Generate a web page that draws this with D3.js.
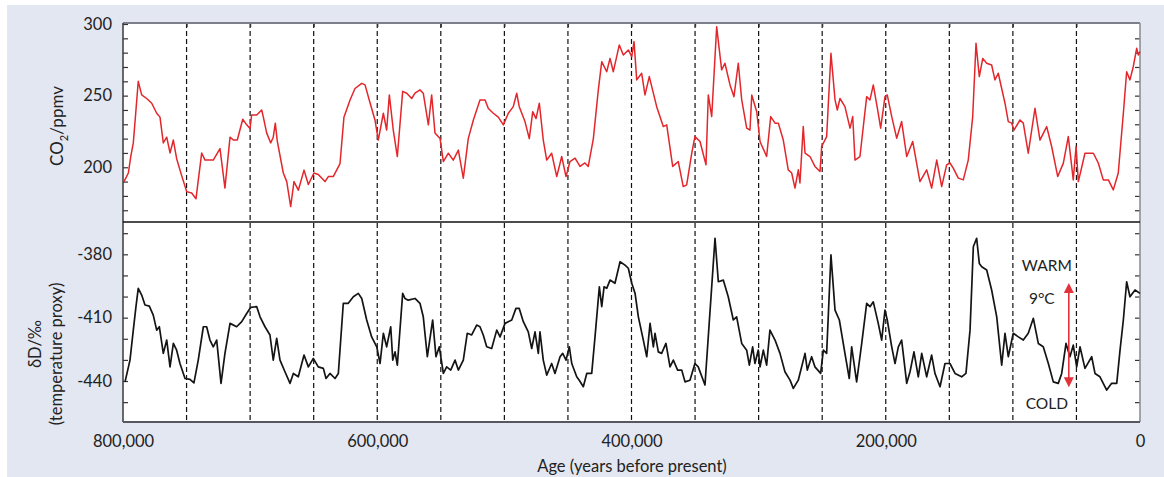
<!DOCTYPE html>
<html>
<head>
<meta charset="utf-8">
<script src="https://cdn.jsdelivr.net/npm/d3@7"></script>
<style>
  body { margin: 0; background: #ffffff; }
  svg { display: block; }
  text { font-family: Lato, "Open Sans", sans-serif; fill: #222; }
</style>
</head>
<body>
<svg id="vis" width="1164" height="477"></svg>
<script>
// ages in thousands of years before present
const CO2_AGE = [799.2,795.8,793.9,791.9,789.8,788.0,785.3,781.4,777.4,773.5,770.9,768.3,765.6,763.0,760.4,757.8,753.8,749.9,746.0,742.6,738.1,735.5,729.0,723.7,719.8,715.8,713.2,710.1,705.8,702.7,700.1,698.8,694.8,690.9,689.6,687.0,683.8,681.8,680.2,678.6,673.9,671.2,668.1,665.5,662.1,657.6,654.2,649.8,646.4,641.1,638.5,634.6,629.3,626.2,621.4,617.5,612.2,609.6,605.7,601.8,599.2,595.2,592.6,590.5,587.4,584.2,580.0,576.8,572.9,570.3,566.4,563.8,559.8,557.2,554.6,550.6,548.0,544.1,540.2,536.2,532.3,528.4,524.4,519.2,515.2,512.6,508.7,504.8,500.8,496.9,493.0,490.3,488.3,483.8,480.4,477.7,475.1,472.5,469.4,466.7,462.8,458.8,454.9,451.5,448.4,444.4,440.5,436.6,434.0,432.1,430.0,426.1,423.4,419.5,416.9,414.3,409.6,406.4,402.5,399.8,398.0,395.9,392.0,389.4,386.0,380.2,375.0,372.3,367.6,363.2,359.3,356.6,352.6,350.1,346.1,341.4,339.6,336.9,333.0,329.1,326.5,322.5,319.4,316.0,313.3,309.4,306.8,305.4,301.5,298.9,293.7,290.5,287.1,284.5,280.6,276.7,274.0,271.4,268.8,267.5,264.9,263.5,259.6,255.7,251.7,250.4,246.5,243.1,239.9,238.1,236.0,232.1,228.1,226.0,224.2,220.3,215.0,212.4,209.8,205.9,204.0,200.6,198.8,195.3,191.4,187.5,183.5,178.8,173.1,167.8,163.9,159.9,156.0,152.1,149.5,146.9,142.9,139.0,135.1,131.6,129.0,126.4,123.7,120.6,116.7,114.1,111.5,106.2,103.6,100.9,99.1,94.4,91.8,87.9,82.6,78.7,73.4,69.5,64.7,60.3,56.4,52.5,50.3,48.5,43.3,36.7,32.8,28.9,24.9,21.0,17.1,13.1,10.5,7.9,5.3,2.6,1.3,0];
const CO2_PPMV = [190,196,207.5,217,240,260,250.5,248,244.7,237.7,235,217,221,210,219,206,194,183,182,178,210,205,205,213,185.5,221,219,219,233.5,229.6,227,236.5,236.5,240,235,224,217,221,230.8,218,196,190,172.6,190,184,198,188,196,195,190,193.5,193.5,202.5,235,247,255,258.6,257.5,245,233,219,237.7,226,250.5,226,207.5,253,251.7,248,251.7,254,251.7,229.6,250.5,224,220,204,209.8,205,212,192.4,220,233,247,247,241,237.7,235,229.6,237.7,242.3,251.7,242.3,231.9,220,238.8,234,244.7,219,205,209.8,193.5,207.5,193.5,204,206.4,200.6,203,200.6,209.8,220,254,273.7,266.7,276,266.7,285.4,278.4,281.9,277.2,287.7,261,265.6,250.5,263.3,242.3,228.4,229.6,200.6,204,186.5,187.7,209.8,221.4,218,201.7,250.5,235.4,298,268,272.6,257.5,249.3,272.6,247,227.3,226,250.5,238.8,218,207.5,235.4,230.8,230.8,219,198.2,196,185.5,198.2,189,228.4,209.8,207.5,200.6,197,214.5,221.4,279.5,247,240,248,242.3,227.3,235.4,205,207.5,249.3,247,257.5,237.7,227.3,249.3,250.5,235.4,220.3,231.9,207.5,218,190,198.2,185.5,205,186.5,201.7,203,199.4,192.4,191.2,205,235.4,286.5,263.3,276,272.6,271.4,261,265.6,244.7,231.9,230.8,226,233,230.8,209.8,241.2,219,228.4,214.5,193.5,202.9,221.4,191.2,214.5,190,209.8,209.8,203,191.2,191.2,184.2,196,237.7,266.7,261,270.2,283,278.4,280.7];

const DD_AGE = [798.4,794.5,791.9,789.8,788.0,785.3,782.7,779.3,776.2,773.5,771.4,768.3,765.6,763.0,760.4,757.8,755.2,751.2,747.3,744.2,740.8,736.8,734.2,731.6,729.0,726.3,722.9,719.8,715.8,710.6,706.6,702.7,699.5,694.8,692.2,688.3,684.4,681.8,679.1,676.5,672.6,668.6,666.0,662.1,657.6,654.2,650.3,646.4,642.4,640.3,637.2,633.2,630.6,626.7,622.8,618.8,614.9,612.2,608.3,604.4,600.4,597.8,595.2,592.6,589.4,587.8,586.0,584.2,580.0,578.2,575.6,570.3,566.4,563.8,560.6,556.4,553.8,551.2,548.0,545.4,542.2,538.8,536.2,532.3,529.2,525.7,521.8,519.2,516.6,513.9,510.0,506.0,503.4,499.5,494.2,490.9,488.3,485.1,481.2,478.5,475.9,473.3,472.0,469.4,466.7,462.8,460.2,456.2,454.1,451.5,448.9,447.0,443.1,441.1,437.9,435.2,431.3,428.7,425.3,423.4,421.6,419.5,416.9,413.0,409.0,405.1,402.5,399.8,397.2,394.6,390.7,388.0,385.4,382.8,381.5,378.9,376.3,372.9,369.7,367.1,363.7,360.5,357.9,354.0,350.1,347.5,342.2,334.3,331.7,327.8,323.9,319.9,317.3,313.3,309.4,307.3,304.7,302.9,300.3,298.9,296.3,293.7,291.1,287.1,283.2,279.3,275.3,272.7,268.8,263.5,261.7,258.3,255.7,251.2,249.1,246.5,243.1,239.9,236.5,232.1,228.7,226.8,222.9,218.9,215.0,212.4,209.8,205.9,203.2,200.6,198.8,195.3,192.7,190.1,187.5,183.5,180.9,177.8,174.4,171.7,167.8,163.9,161.3,157.3,153.4,149.5,145.5,140.3,136.9,133.7,131.1,128.5,126.4,124.5,120.6,116.7,112.7,108.8,106.2,103.6,99.7,95.7,91.8,87.9,83.9,80.0,76.1,72.1,68.2,64.3,61.6,58.2,55.1,52.5,49.8,47.2,43.3,38.0,35.4,31.5,26.2,22.3,18.3,15.7,13.1,10.5,7.9,3.9,0];
const DD_PERMIL = [-440.4,-430.1,-415.9,-404.8,-396.1,-399.3,-404.0,-404.5,-408.8,-415.9,-414.3,-426.9,-420.6,-433.3,-422.2,-425.4,-431.7,-438.8,-439.2,-440.9,-430.1,-414.3,-414.3,-420.6,-423.8,-420.6,-441.1,-426.9,-412.7,-414.3,-411.9,-408.0,-405.1,-404.8,-409.6,-414.3,-418.2,-430.1,-419.8,-430.1,-435.6,-441.1,-436.4,-438.0,-427.7,-433.3,-429.3,-433.3,-434.0,-438.8,-436.4,-438.8,-436.4,-403.2,-403.2,-400.1,-398.5,-400.9,-411.1,-419.1,-423.8,-431.7,-417.4,-423.8,-414.3,-430.1,-426.2,-432.5,-398.5,-400.9,-401.7,-400.9,-403.2,-409.6,-428.5,-411.1,-428.5,-423.8,-436.4,-433.3,-434.8,-430.1,-434.8,-430.1,-417.4,-418.2,-413.5,-414.3,-418.2,-423.8,-424.6,-415.9,-419.1,-412.7,-411.1,-405.6,-405.6,-411.9,-416.7,-424.6,-416.7,-426.9,-416.7,-430.1,-437.2,-431.7,-436.4,-428.5,-426.9,-430.1,-423.8,-431.7,-438.0,-439.6,-442.7,-436.4,-436.4,-419.1,-395.4,-404.8,-395.4,-396.1,-392.2,-393.7,-383.5,-385.1,-386.6,-393.7,-398.5,-409.6,-420.6,-428.5,-412.7,-423.8,-417.4,-426.2,-426.9,-422.2,-433.3,-430.1,-434.8,-434.8,-440.4,-439.6,-431.7,-433.3,-441.9,-372.4,-393.0,-392.2,-400.1,-411.1,-409.6,-422.2,-425.4,-432.5,-423.8,-431.7,-425.4,-433.3,-425.4,-432.5,-415.9,-420.6,-426.9,-435.6,-439.6,-443.5,-439.6,-426.9,-434.8,-428.5,-433.3,-436.4,-425.4,-426.9,-380.3,-406.4,-411.1,-426.9,-438.8,-423.8,-440.4,-422.2,-403.2,-404.8,-402.5,-412.7,-420.6,-406.4,-411.1,-423.8,-431.7,-423.8,-420.6,-441.1,-435.6,-426.2,-438.0,-426.9,-438.0,-427.7,-436.4,-442.7,-431.7,-431.7,-436.4,-438.0,-436.4,-415.9,-376.4,-372.4,-384.3,-385.9,-387.4,-396.9,-409.6,-432.5,-417.4,-428.5,-417.4,-419.1,-420.6,-417.4,-410.3,-422.2,-423.8,-431.7,-440.4,-441.1,-436.4,-422.2,-428.5,-423.0,-433.3,-423.8,-434.0,-428.5,-436.4,-438.0,-444.3,-441.1,-441.1,-425.4,-411.1,-393.0,-400.1,-396.9,-398.5];

const AGE_LABELS = [800000, 600000, 400000, 200000, 0];
const CO2_LABELS = [200, 250, 300];
const DD_LABELS = [-380, -410, -440];

const LEFT = 123, RIGHT = 1140;
const TOP = 23, MID = 222, BOTTOM = 422;
const FONT_SIZE = "16.5px";

let svg = d3.select("#vis");

// page background
svg.append("rect").attr("x", 0).attr("y", 0).attr("width", 1164).attr("height", 477).attr("fill", "#ffffff");
svg.append("rect").attr("x", 7).attr("y", 5).attr("width", 1157).attr("height", 472).attr("fill", "#e2e7f1");
svg.append("rect").attr("x", LEFT).attr("y", TOP).attr("width", RIGHT - LEFT).attr("height", BOTTOM - TOP).attr("fill", "#ffffff");

let xScale = d3.scaleLinear().domain([800000, 0]).range([LEFT, RIGHT]);
let co2Scale = d3.scaleLinear().domain([161.8, 300.7]).range([MID, TOP]);
let dDScale = d3.scaleLinear().domain([-459.4, -364.7]).range([BOTTOM, MID]);

// dashed guide lines every 50,000 years
svg.append("g").selectAll("line")
    .data(d3.range(50000, 800000, 50000))
    .enter()
    .append("line")
    .attr("x1", function (d) { return xScale(d); })
    .attr("x2", function (d) { return xScale(d); })
    .attr("y1", TOP)
    .attr("y2", BOTTOM)
    .attr("stroke", "#111")
    .attr("stroke-width", 1.2)
    .attr("stroke-dasharray", "5,3");

// axes
function styleAxis(g) {
    g.select(".domain").remove();
    g.selectAll(".tick line").attr("stroke", "#333").attr("stroke-width", 1.2);
    g.selectAll("text").attr("font-size", FONT_SIZE).attr("fill", "#222")
        .attr("font-family", "Lato, 'Open Sans', sans-serif");
}

svg.append("g")
    .attr("transform", "translate(" + LEFT + ",0)")
    .call(d3.axisLeft(co2Scale)
        .tickValues(d3.range(170, 301, 10))
        .tickSize(-5)
        .tickPadding(11)
        .tickFormat(function (d) { return CO2_LABELS.includes(d) ? d : ""; }))
    .call(styleAxis);

svg.append("g")
    .attr("transform", "translate(" + LEFT + ",0)")
    .call(d3.axisLeft(dDScale)
        .tickValues(d3.range(-450, -369, 10))
        .tickSize(-5)
        .tickPadding(11)
        .tickFormat(function (d) { return DD_LABELS.includes(d) ? d : ""; }))
    .call(styleAxis);

svg.append("g")
    .attr("transform", "translate(" + RIGHT + ",0)")
    .call(d3.axisRight(co2Scale).tickValues(d3.range(170, 300, 10)).tickSize(-5).tickFormat(""))
    .call(styleAxis);

svg.append("g")
    .attr("transform", "translate(" + RIGHT + ",0)")
    .call(d3.axisRight(dDScale).tickValues(d3.range(-450, -369, 10)).tickSize(-5).tickFormat(""))
    .call(styleAxis);

svg.append("g")
    .attr("transform", "translate(0," + TOP + ")")
    .call(d3.axisTop(xScale).tickValues(d3.range(50000, 800000, 50000)).tickSize(-4).tickFormat(""))
    .call(styleAxis);

svg.append("g")
    .attr("transform", "translate(0," + BOTTOM + ")")
    .call(d3.axisBottom(xScale).tickValues(AGE_LABELS).tickSize(0).tickPadding(13).tickFormat(d3.format(",")))
    .call(styleAxis);

// frame
svg.append("line").attr("x1", LEFT).attr("x2", RIGHT).attr("y1", TOP).attr("y2", TOP)
    .attr("stroke", "#7d8088").attr("stroke-width", 2.2);
svg.append("line").attr("x1", RIGHT).attr("x2", RIGHT).attr("y1", TOP).attr("y2", BOTTOM)
    .attr("stroke", "#8d9097").attr("stroke-width", 1.6);
svg.append("line").attr("x1", LEFT).attr("x2", LEFT).attr("y1", TOP).attr("y2", BOTTOM)
    .attr("stroke", "#3a3a3a").attr("stroke-width", 1.5);
svg.append("line").attr("x1", LEFT).attr("x2", RIGHT).attr("y1", BOTTOM).attr("y2", BOTTOM)
    .attr("stroke", "#55585e").attr("stroke-width", 1.8);
svg.append("line").attr("x1", LEFT).attr("x2", RIGHT).attr("y1", MID).attr("y2", MID)
    .attr("stroke", "#111").attr("stroke-width", 1.5);

// curves
let co2Line = d3.line()
    .x(function (d, i) { return xScale(CO2_AGE[i] * 1000); })
    .y(function (d) { return co2Scale(d); });
svg.append("path")
    .datum(CO2_PPMV)
    .attr("d", co2Line)
    .attr("fill", "none")
    .attr("stroke", "#e3262b")
    .attr("stroke-width", 1.5)
    .attr("stroke-linejoin", "round");

let dDLine = d3.line()
    .x(function (d, i) { return xScale(DD_AGE[i] * 1000); })
    .y(function (d) { return dDScale(d); });
svg.append("path")
    .datum(DD_PERMIL)
    .attr("d", dDLine)
    .attr("fill", "none")
    .attr("stroke", "#141414")
    .attr("stroke-width", 1.7)
    .attr("stroke-linejoin", "round");

// axis titles
svg.append("text")
    .attr("transform", "translate(63,126) rotate(-90)")
    .attr("text-anchor", "middle")
    .attr("font-size", "17px")
    .html("CO<tspan font-size='11px' dy='5'>2</tspan><tspan dy='-5'>/ppmv</tspan>");

svg.append("text")
    .attr("transform", "translate(41,344) rotate(-90)")
    .attr("text-anchor", "middle")
    .attr("font-size", FONT_SIZE)
    .text("δD/‰");
svg.append("text")
    .attr("transform", "translate(62,354) rotate(-90)")
    .attr("text-anchor", "middle")
    .attr("font-size", FONT_SIZE)
    .text("(temperature proxy)");

svg.append("text")
    .attr("x", 632).attr("y", 472)
    .attr("text-anchor", "middle")
    .attr("font-size", FONT_SIZE)
    .text("Age (years before present)");

// 9°C warm / cold annotation
const ARROW_AGE = 56000;
const ARROW_TOP = -393.6, ARROW_BOTTOM = -442.9;
let ax = xScale(ARROW_AGE);
let ay1 = dDScale(ARROW_TOP), ay2 = dDScale(ARROW_BOTTOM);
svg.append("line").attr("x1", ax).attr("x2", ax).attr("y1", ay1 + 8).attr("y2", ay2 - 8)
    .attr("stroke", "#e2323a").attr("stroke-width", 1.6);
svg.append("path")
    .attr("d", "M" + ax + "," + ay1 + " L" + (ax - 5) + "," + (ay1 + 10) + " L" + (ax + 5) + "," + (ay1 + 10) + "Z")
    .attr("fill", "#e2323a");
svg.append("path")
    .attr("d", "M" + ax + "," + ay2 + " L" + (ax - 5) + "," + (ay2 - 10) + " L" + (ax + 5) + "," + (ay2 - 10) + "Z")
    .attr("fill", "#e2323a");

svg.append("text").attr("x", ax - 22).attr("y", 271).attr("text-anchor", "middle")
    .attr("font-size", "15.5px").text("WARM");
svg.append("text").attr("x", ax - 27).attr("y", 304).attr("text-anchor", "middle")
    .attr("font-size", "15.5px").text("9°C");
svg.append("text").attr("x", ax - 22).attr("y", 409).attr("text-anchor", "middle")
    .attr("font-size", "15.5px").text("COLD");
</script>
</body>
</html>
